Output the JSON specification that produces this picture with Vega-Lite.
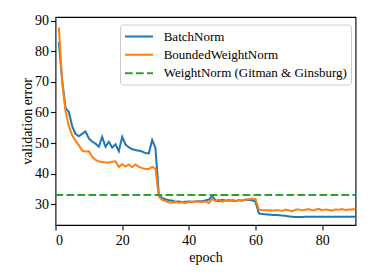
{
  "$schema": "https://vega.github.io/schema/vega-lite/v6.json",
  "width": 300,
  "height": 208,
  "autosize": {"type": "none"},
  "padding": {"left": 55.5, "top": 17, "right": 18, "bottom": 55},
  "background": "white",
  "config": {
    "font": "serif",
    "view": {"stroke": "black", "strokeWidth": 1.1},
    "axis": {
      "grid": false,
      "domain": false,
      "tickColor": "black",
      "tickSize": 5,
      "tickWidth": 1.1,
      "labelColor": "black",
      "labelFont": "serif",
      "labelFontSize": 14,
      "titleFont": "serif",
      "titleFontSize": 14,
      "titleFontWeight": "normal",
      "titleColor": "black"
    },
    "legend": {
      "labelFont": "serif",
      "labelFontSize": 13,
      "labelColor": "black"
    }
  },
  "datasets": {
    "runs": [
      {"epoch":1,"BatchNorm":83.0,"BoundedWeightNorm":87.8},
      {"epoch":2,"BatchNorm":70.5,"BoundedWeightNorm":70.0},
      {"epoch":3,"BatchNorm":61.5,"BoundedWeightNorm":60.5},
      {"epoch":4,"BatchNorm":60.2,"BoundedWeightNorm":55.5},
      {"epoch":5,"BatchNorm":55.5,"BoundedWeightNorm":52.5},
      {"epoch":6,"BatchNorm":53.0,"BoundedWeightNorm":50.8},
      {"epoch":7,"BatchNorm":52.2,"BoundedWeightNorm":49.3},
      {"epoch":8,"BatchNorm":53.0,"BoundedWeightNorm":47.5},
      {"epoch":9,"BatchNorm":53.8,"BoundedWeightNorm":47.2},
      {"epoch":10,"BatchNorm":51.5,"BoundedWeightNorm":47.3},
      {"epoch":11,"BatchNorm":50.5,"BoundedWeightNorm":45.5},
      {"epoch":12,"BatchNorm":49.8,"BoundedWeightNorm":44.5},
      {"epoch":13,"BatchNorm":48.8,"BoundedWeightNorm":44.0},
      {"epoch":14,"BatchNorm":52.0,"BoundedWeightNorm":43.8},
      {"epoch":15,"BatchNorm":48.8,"BoundedWeightNorm":43.6},
      {"epoch":16,"BatchNorm":50.4,"BoundedWeightNorm":43.6},
      {"epoch":17,"BatchNorm":48.5,"BoundedWeightNorm":43.9},
      {"epoch":18,"BatchNorm":49.6,"BoundedWeightNorm":44.0},
      {"epoch":19,"BatchNorm":47.3,"BoundedWeightNorm":42.2},
      {"epoch":20,"BatchNorm":52.0,"BoundedWeightNorm":43.1},
      {"epoch":21,"BatchNorm":49.5,"BoundedWeightNorm":42.3},
      {"epoch":22,"BatchNorm":48.6,"BoundedWeightNorm":43.0},
      {"epoch":23,"BatchNorm":48.0,"BoundedWeightNorm":42.1},
      {"epoch":24,"BatchNorm":47.7,"BoundedWeightNorm":43.0},
      {"epoch":25,"BatchNorm":47.5,"BoundedWeightNorm":42.2},
      {"epoch":26,"BatchNorm":47.2,"BoundedWeightNorm":41.8},
      {"epoch":27,"BatchNorm":46.7,"BoundedWeightNorm":41.5},
      {"epoch":28,"BatchNorm":46.6,"BoundedWeightNorm":41.5},
      {"epoch":29,"BatchNorm":51.0,"BoundedWeightNorm":42.2},
      {"epoch":30,"BatchNorm":48.3,"BoundedWeightNorm":41.6},
      {"epoch":31,"BatchNorm":33.0,"BoundedWeightNorm":32.5},
      {"epoch":32,"BatchNorm":32.0,"BoundedWeightNorm":31.4},
      {"epoch":33,"BatchNorm":31.6,"BoundedWeightNorm":31.0},
      {"epoch":34,"BatchNorm":31.3,"BoundedWeightNorm":30.6},
      {"epoch":35,"BatchNorm":31.2,"BoundedWeightNorm":30.5},
      {"epoch":36,"BatchNorm":30.8,"BoundedWeightNorm":30.7},
      {"epoch":37,"BatchNorm":30.9,"BoundedWeightNorm":30.5},
      {"epoch":38,"BatchNorm":30.7,"BoundedWeightNorm":30.6},
      {"epoch":39,"BatchNorm":30.8,"BoundedWeightNorm":30.4},
      {"epoch":40,"BatchNorm":30.9,"BoundedWeightNorm":30.8},
      {"epoch":41,"BatchNorm":30.8,"BoundedWeightNorm":30.6},
      {"epoch":42,"BatchNorm":30.9,"BoundedWeightNorm":31.0},
      {"epoch":43,"BatchNorm":31.0,"BoundedWeightNorm":30.8},
      {"epoch":44,"BatchNorm":31.0,"BoundedWeightNorm":30.7},
      {"epoch":45,"BatchNorm":31.2,"BoundedWeightNorm":30.9},
      {"epoch":46,"BatchNorm":31.5,"BoundedWeightNorm":30.4},
      {"epoch":47,"BatchNorm":32.7,"BoundedWeightNorm":31.8},
      {"epoch":48,"BatchNorm":31.3,"BoundedWeightNorm":31.0},
      {"epoch":49,"BatchNorm":31.0,"BoundedWeightNorm":31.5},
      {"epoch":50,"BatchNorm":31.4,"BoundedWeightNorm":30.8},
      {"epoch":51,"BatchNorm":31.2,"BoundedWeightNorm":31.3},
      {"epoch":52,"BatchNorm":31.3,"BoundedWeightNorm":31.0},
      {"epoch":53,"BatchNorm":31.2,"BoundedWeightNorm":31.4},
      {"epoch":54,"BatchNorm":31.0,"BoundedWeightNorm":31.1},
      {"epoch":55,"BatchNorm":31.3,"BoundedWeightNorm":31.3},
      {"epoch":56,"BatchNorm":31.2,"BoundedWeightNorm":31.2},
      {"epoch":57,"BatchNorm":31.5,"BoundedWeightNorm":31.5},
      {"epoch":58,"BatchNorm":31.4,"BoundedWeightNorm":31.6},
      {"epoch":59,"BatchNorm":31.3,"BoundedWeightNorm":31.8},
      {"epoch":60,"BatchNorm":30.8,"BoundedWeightNorm":31.7},
      {"epoch":61,"BatchNorm":27.0,"BoundedWeightNorm":28.3},
      {"epoch":62,"BatchNorm":26.8,"BoundedWeightNorm":28.0},
      {"epoch":63,"BatchNorm":26.7,"BoundedWeightNorm":28.0},
      {"epoch":64,"BatchNorm":26.6,"BoundedWeightNorm":28.0},
      {"epoch":65,"BatchNorm":26.5,"BoundedWeightNorm":27.9},
      {"epoch":66,"BatchNorm":26.5,"BoundedWeightNorm":28.0},
      {"epoch":67,"BatchNorm":26.4,"BoundedWeightNorm":28.0},
      {"epoch":68,"BatchNorm":26.3,"BoundedWeightNorm":27.8},
      {"epoch":69,"BatchNorm":26.2,"BoundedWeightNorm":28.2},
      {"epoch":70,"BatchNorm":26.0,"BoundedWeightNorm":28.0},
      {"epoch":71,"BatchNorm":25.9,"BoundedWeightNorm":27.7},
      {"epoch":72,"BatchNorm":25.8,"BoundedWeightNorm":28.2},
      {"epoch":73,"BatchNorm":25.8,"BoundedWeightNorm":28.3},
      {"epoch":74,"BatchNorm":25.8,"BoundedWeightNorm":28.0},
      {"epoch":75,"BatchNorm":25.9,"BoundedWeightNorm":28.2},
      {"epoch":76,"BatchNorm":25.9,"BoundedWeightNorm":28.4},
      {"epoch":77,"BatchNorm":25.9,"BoundedWeightNorm":28.0},
      {"epoch":78,"BatchNorm":25.9,"BoundedWeightNorm":28.2},
      {"epoch":79,"BatchNorm":25.9,"BoundedWeightNorm":28.5},
      {"epoch":80,"BatchNorm":25.9,"BoundedWeightNorm":28.0},
      {"epoch":81,"BatchNorm":25.9,"BoundedWeightNorm":28.3},
      {"epoch":82,"BatchNorm":25.9,"BoundedWeightNorm":28.1},
      {"epoch":83,"BatchNorm":25.9,"BoundedWeightNorm":27.9},
      {"epoch":84,"BatchNorm":25.9,"BoundedWeightNorm":28.3},
      {"epoch":85,"BatchNorm":25.9,"BoundedWeightNorm":28.2},
      {"epoch":86,"BatchNorm":25.9,"BoundedWeightNorm":28.4},
      {"epoch":87,"BatchNorm":25.9,"BoundedWeightNorm":28.1},
      {"epoch":88,"BatchNorm":25.9,"BoundedWeightNorm":28.3},
      {"epoch":89,"BatchNorm":25.9,"BoundedWeightNorm":28.3},
      {"epoch":90,"BatchNorm":25.9,"BoundedWeightNorm":28.4}
    ],
    "baseline": [
      {"epoch":0,"series":"WeightNorm (Gitman & Ginsburg)","val":33.0},
      {"epoch":90,"series":"WeightNorm (Gitman & Ginsburg)","val":33.0}
    ]
  },
  "encoding": {
    "x": {
      "field": "epoch", "type": "quantitative", "title": "epoch",
      "scale": {"domain": [0, 90], "nice": false, "zero": false},
      "axis": {"values": [0, 20, 40, 60, 80], "labelPadding": 3, "titlePadding": 3}
    },
    "y": {
      "field": "val", "type": "quantitative", "title": "validation error",
      "scale": {"domain": [23.2, 91.2], "nice": false, "zero": false},
      "axis": {"values": [30, 40, 50, 60, 70, 80, 90], "labelPadding": 2, "titlePadding": 0}
    },
    "color": {
      "field": "series", "type": "nominal", "title": null,
      "scale": {
        "domain": ["BatchNorm", "BoundedWeightNorm", "WeightNorm (Gitman & Ginsburg)"],
        "range": ["#1f77b4", "#ff7f0e", "#2ca02c"]
      },
      "legend": {
        "orient": "none", "legendX": 64.5, "legendY": 7.5,
        "symbolType": "M-1,0H3", "symbolSize": 196, "symbolStrokeWidth": 2,
        "labelFont": "serif",
        "labelFontSize": 13, "labelLimit": 400,
        "labelOffset": 23.7, "rowPadding": 3.35, "padding": 4,
        "strokeColor": "#cccccc", "fillColor": "rgba(255,255,255,0.8)", "cornerRadius": 3
      }
    },
    "strokeDash": {
      "field": "series", "type": "nominal", "title": null,
      "scale": {
        "domain": ["BatchNorm", "BoundedWeightNorm", "WeightNorm (Gitman & Ginsburg)"],
        "range": [[1, 0], [1, 0], [7.7, 3.3]]
      }
    }
  },
  "layer": [
    {
      "data": {"name": "runs"},
      "transform": [{"fold": ["BatchNorm", "BoundedWeightNorm"], "as": ["series", "val"]}],
      "mark": {"type": "line", "strokeWidth": 2, "clip": true}
    },
    {
      "data": {"name": "baseline"},
      "mark": {"type": "line", "strokeWidth": 2, "clip": true}
    }
  ]
}
